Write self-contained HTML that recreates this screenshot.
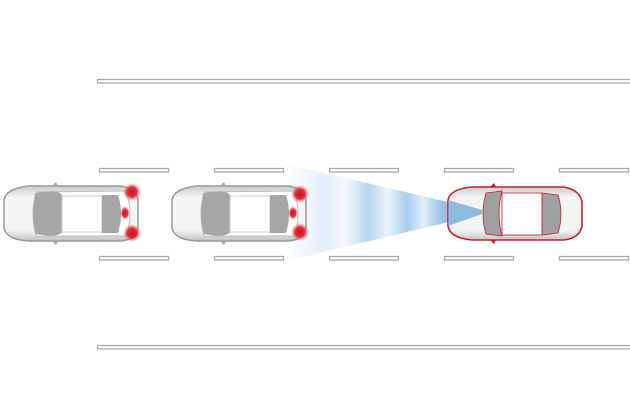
<!DOCTYPE html>
<html><head><style>body{margin:0;background:#fff}svg{display:block}</style></head><body>
<svg width="630" height="420" viewBox="0 0 630 420" xmlns="http://www.w3.org/2000/svg">
<defs>
<linearGradient id="beam" x1="285" y1="0" x2="482" y2="0" gradientUnits="userSpaceOnUse">
<stop offset="0" stop-color="#d8e8f6" stop-opacity="0"/>
<stop offset="0.2" stop-color="#cfe2f4" stop-opacity="0.6"/>
<stop offset="0.3" stop-color="#eef5fb" stop-opacity="0.7"/>
<stop offset="0.42" stop-color="#b6d4ef"/>
<stop offset="0.52" stop-color="#eaf3fb"/>
<stop offset="0.62" stop-color="#a9cceb"/>
<stop offset="0.7" stop-color="#e2eef9"/>
<stop offset="0.8" stop-color="#98c1e6"/>
<stop offset="1" stop-color="#6fa6d8"/>
</linearGradient>
<linearGradient id="body" x1="0" y1="186" x2="0" y2="241" gradientUnits="userSpaceOnUse">
<stop offset="0" stop-color="#c8c8c8"/><stop offset="0.2" stop-color="#f4f4f4"/><stop offset="0.8" stop-color="#f4f4f4"/><stop offset="1" stop-color="#c0c0c0"/>
</linearGradient>
<radialGradient id="lamp"><stop offset="0" stop-color="#c8141e"/><stop offset="0.55" stop-color="#e0303a"/><stop offset="1" stop-color="#f08088" stop-opacity="0"/></radialGradient>
<g id="gcar">
<path d="M4,200 Q6,188 30,186 L120,186 Q136,188 138,200 L138,228 Q136,240 120,241 L30,241 Q6,240 4,228 Z" fill="url(#body)" stroke="#999" stroke-width="1.5"/>
<path d="M36,192 L125,191 Q130,200 130,214 Q130,228 125,236 L36,236 Q30,214 36,192Z" fill="#fff" stroke="#bbb"/>
<path d="M36,193 Q58,189 62,195 L62,232 Q58,238 36,234 Q30,214 36,193Z" fill="#a5a5a5"/>
<rect x="62" y="196" width="40" height="36" fill="#fff" stroke="#ccc"/>
<path d="M102,195 L118,195 Q124,214 118,233 L102,233 Z" fill="#a5a5a5"/>
<path d="M52,186 L56,182 L58,186Z M52,241 L56,245 L58,241Z" fill="#aaa"/>
</g>
</defs>
<g fill="#fff" stroke="#aaa" stroke-width="1.3">
<rect x="97.5" y="79.5" width="540" height="3.5"/>
<rect x="97.5" y="345.5" width="540" height="3.5"/>
<rect x="99.5" y="168.5" width="69" height="3.5"/><rect x="214.5" y="168.5" width="69" height="3.5"/><rect x="329.5" y="168.5" width="69" height="3.5"/><rect x="444.5" y="168.5" width="69" height="3.5"/><rect x="559.5" y="168.5" width="69" height="3.5"/>
<rect x="99.5" y="256.5" width="69" height="3.5"/><rect x="214.5" y="256.5" width="69" height="3.5"/><rect x="329.5" y="256.5" width="69" height="3.5"/><rect x="444.5" y="256.5" width="69" height="3.5"/><rect x="559.5" y="256.5" width="69" height="3.5"/>
</g>
<polygon points="282,163 482,210 482,214 282,262" fill="url(#beam)"/>
<use href="#gcar"/>
<use href="#gcar" x="168"/>
<g fill="url(#lamp)">
<circle cx="132" cy="192" r="9"/><circle cx="132" cy="233" r="9"/><ellipse cx="125" cy="213" rx="5" ry="7"/>
<circle cx="300" cy="194" r="9"/><circle cx="300" cy="232" r="9"/><ellipse cx="293" cy="213" rx="5" ry="7"/>
</g>
<g transform="translate(446,0)">
<path d="M2,200 Q4,189 26,187 L118,187 Q134,190 136,202 L136,226 Q134,238 118,240 L26,240 Q4,238 2,226 Z" fill="url(#body)" stroke="#c8202a" stroke-width="1.6"/>
<path d="M40,193 L56,191 Q50,214 56,236 L40,234 Q34,214 40,193Z" fill="#a0a0a0" stroke="#c8202a" stroke-width="0.8"/>
<rect x="56" y="193" width="40" height="42" fill="#fff" stroke="#c8202a" stroke-width="0.8"/>
<path d="M96,193 L112,195 Q118,214 112,233 L96,235Z" fill="#a0a0a0" stroke="#c8202a" stroke-width="0.8"/>
<path d="M44,187 L48,183 L50,187Z M44,240 L48,244 L50,240Z" fill="#c8202a"/>
</g>
<polygon points="448,200 482,210 482,214 448,226" fill="#6fa6d8" opacity="0.75"/>
</svg>
</body></html>
